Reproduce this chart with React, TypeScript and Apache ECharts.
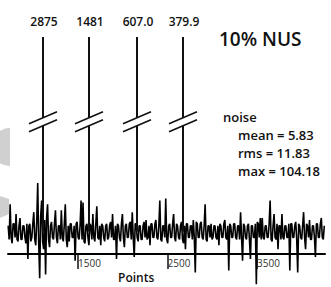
import React, { useEffect, useRef } from "react";
import * as echarts from "echarts";

// Noise trace: values at evenly spaced points
const noiseStart = 720;
const noiseStep = 11;
const noiseValues = [
  3, -4, 14, -3, -6, 4, 4, -3, 9, -4, -5, 3, 7, -4, -4, 3, 3, -3, -6, 4,
  -14, 3, 4, -5, -3, 4, 10, -4, -7, 5, 25, -6, -24, 8, 16, -5, -9, 6, -22, 7,
  14, -4, -8, 3, 5, -3, -4, 4, 11, -3, -6, 3, 3, -4, 11, -3, -5, 4, 14, -4,
  -8, 3, -5, 4, 4, -3, -3, 3, -15, 4, 5, -3, -4, 3, 16, -4, 15, -5, -6, 3,
  4, -3, -7, 4, 3, -4, 9, -3, -5, 4, 13, -3, -4, 3, -7, 4, 3, -3, -5, 3,
  4, -4, -3, 3, 5, -3, 9, -4, -4, 3, -14, 4, 3, -3, -5, 4, 9, -3, -8, 3,
  4, -3, -3, 4, 5, -4, 10, -3, -13, 4, 4, -3, -5, 3, 3, -4, -4, 3, 5, -3,
  6, -4, -3, 3, -7, 4, 4, -3, -3, 4, 6, -3, -4, 3, 16, -4, -5, 3, 3, -3,
  17, -4, -6, 3, 4, -3, -3, 4, 9, -3, -5, 4, 3, -3, -4, 3, 5, -4, -6, 3,
  -9, 4, 4, -3, -3, 3, 3, -4, 6, -3, -21, 5, 4, -3, -3, 4, 5, -3, -4, 3,
  14, -4, -5, 3, 3, -3, 4, -4, -3, 3, 3, -3, -4, 3, -7, 4, 3, -3, -3, 4,
  6, -3, -4, 3, -20, 4, 3, -3, -3, 4, 4, -3, -4, 3, 3, -4, 10, -3, -15, 4,
  3, -3, -4, 3, 4, -4, -14, 3, 3, -3, -3, 4, -27, 5, 4, -3, 7, -4, 7, -3,
  -4, 3, 3, -3, -3, 4, 16, -4, -5, 3, 9, -3, -4, 4, -9, 3, 3, -4, 9, -3,
  -4, 3, 3, -3, -3, 4, -20, 4, 4, -3, -3, 3, 5, -4, -21, 4, 3, -3, -4, 3,
  10, -3, -9, 4, 3, -3, 6, -4, -4, 3, 3, -3, -13, 4, 4, -3, -3, 4, 7, -3,
  -4, 3,
];

// Peaks (truncated) and their labels
const peakPositions = [1109, 1623, 2159, 2673];
const peakHeights = [100, 100, 100, 100];
const peakLabels = ["2875", "1481", "607.0", "379.9"];
const breakAt = 56.5;

// Axis ticks
const tickValues = [1500, 2500, 3500];
const xMin = 718;
const xMax = 4259;

// Annotation texts
const title = "10% NUS";
const statsHeader = "noise";
const statsLines = ["mean = 5.83", "rms = 11.83", "max = 104.18"];
const axisName = "Points";

const FONT = "'Open Sans', 'Noto Sans', sans-serif";

export default function App() {
  const ref = useRef<HTMLDivElement>(null);
  useEffect(() => {
    if (!ref.current) return;
    const chart = echarts.init(ref.current, undefined, { renderer: "svg" });
    const noiseData = noiseValues.map((v, i) => [noiseStart + i * noiseStep, v]);
    const peakData = peakPositions.map((x, i) => [x, peakHeights[i], i]);

    chart.setOption({
      animation: false,
      backgroundColor: "#ffffff",
      grid: { left: 8, right: 6, top: 37, bottom: 33 },
      xAxis: {
        type: "value",
        min: xMin,
        max: xMax,
        splitLine: { show: false },
        axisLine: { show: true, onZero: false, lineStyle: { color: "#000", width: 2 } },
        axisTick: {
          show: true,
          customValues: tickValues,
          length: 15,
          lineStyle: { color: "#111", width: 1.5 },
        },
        axisLabel: {
          show: true,
          customValues: tickValues,
          formatter: (v: number) => String(v),
          align: "left",
          margin: 4,
          fontSize: 10,
          fontFamily: FONT,
          color: "#333",
        },
      },
      yAxis: {
        type: "value",
        min: -11.5,
        max: 100,
        show: false,
        splitLine: { show: false },
      },
      series: [
        {
          type: "line",
          data: noiseData,
          clip: false,
          showSymbol: false,
          symbol: "none",
          lineStyle: { color: "#000", width: 1.6 },
          z: 2,
        },
        {
          type: "custom",
          data: peakData,
          clip: false,
          z: 3,
          renderItem: (params: any, api: any) => {
            const x = api.value(0);
            const h = api.value(1);
            const idx = api.value(2);
            const base = api.coord([x, 0]);
            const top = api.coord([x, h]);
            const br = api.coord([x, breakAt]);
            const cx = base[0];
            const upY = br[1] - 4;
            const loY = br[1] + 4;
            const lineStyle = { stroke: "#111", lineWidth: 2 };
            const slashStyle = { stroke: "#111", lineWidth: 1.6 };
            return {
              type: "group",
              children: [
                { type: "line", shape: { x1: cx, y1: base[1], x2: cx, y2: loY }, style: lineStyle },
                { type: "line", shape: { x1: cx, y1: upY, x2: cx, y2: top[1] }, style: lineStyle },
                { type: "line", shape: { x1: cx - 14, y1: upY + 6, x2: cx + 14, y2: upY - 6 }, style: slashStyle },
                { type: "line", shape: { x1: cx - 14, y1: loY + 6, x2: cx + 14, y2: loY - 6 }, style: slashStyle },
                {
                  type: "text",
                  style: {
                    text: peakLabels[idx],
                    x: cx + 1,
                    y: top[1] - 16,
                    align: "center",
                    verticalAlign: "middle",
                    fontSize: 12,
                    fontWeight: 600,
                    fontFamily: FONT,
                    fill: "#111",
                  },
                },
              ],
            };
          },
        },
      ],
      graphic: [
        { type: "sector", shape: { cx: 10, cy: 147, r: 19, startAngle: Math.PI / 2, endAngle: (3 * Math.PI) / 2 }, style: { fill: "#d0d0d0" }, z: 0 },
        { type: "polygon", shape: { points: [[0, 196], [9, 199], [9, 214], [0, 218]] }, style: { fill: "#cfcfcf" }, z: 0 },
        {
          type: "text",
          style: { text: title, x: 219, y: 39, verticalAlign: "middle", fontSize: 19, fontWeight: 600, fontFamily: FONT, fill: "#111" },
        },
        {
          type: "text",
          style: { text: statsHeader, x: 223, y: 117, verticalAlign: "middle", fontSize: 13, fontWeight: 600, fontFamily: FONT, fill: "#111" },
        },
        ...statsLines.map((t, i) => ({
          type: "text",
          style: { text: t, x: 238, y: 135 + i * 18, verticalAlign: "middle", fontSize: 13, fontWeight: 600, fontFamily: FONT, fill: "#111" },
        })),
        {
          type: "text",
          style: { text: axisName, x: 118, y: 277, verticalAlign: "middle", fontSize: 12, fontWeight: 600, fontFamily: FONT, fill: "#111" },
        },
      ],
    });
    return () => chart.dispose();
  }, []);

  return (
    <div
      ref={ref}
      style={{ position: "fixed", left: 0, top: 0, width: 331, height: 287 }}
    />
  );
}
